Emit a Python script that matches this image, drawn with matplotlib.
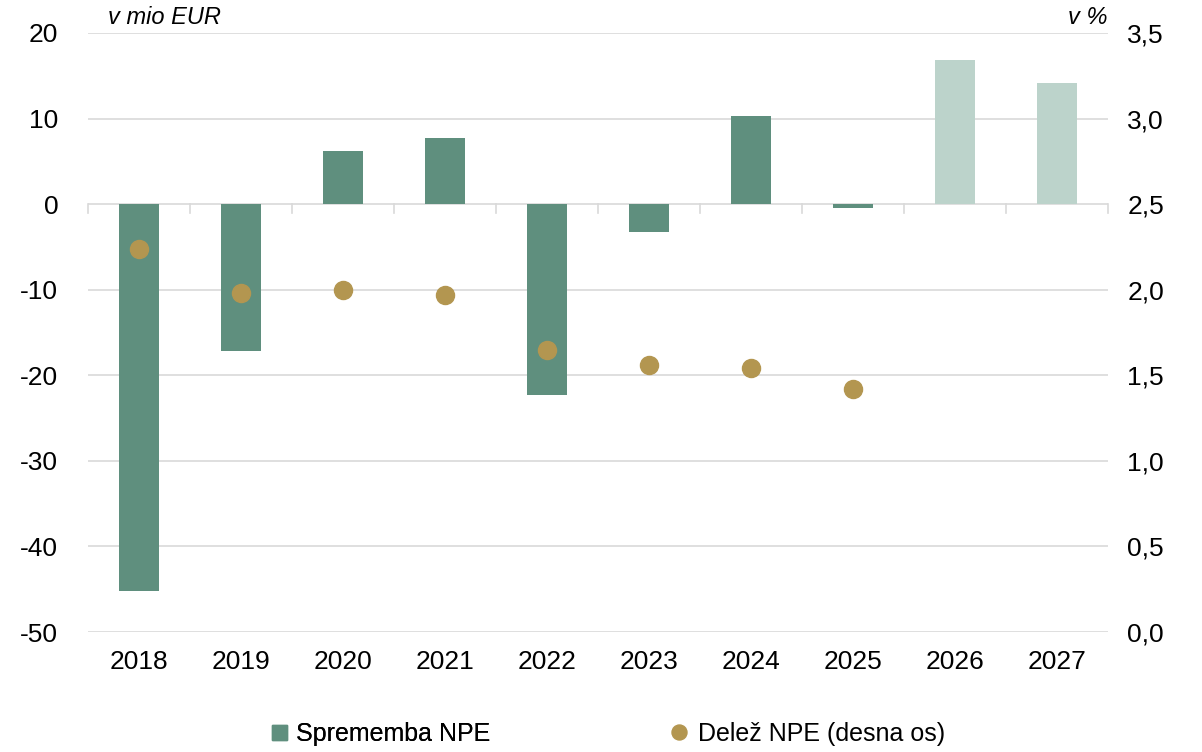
import matplotlib
matplotlib.use("Agg")
import matplotlib.pyplot as plt
from matplotlib.lines import Line2D

plt.rcParams['font.family'] = ['Liberation Sans', 'DejaVu Sans']
plt.rcParams['axes.unicode_minus'] = False

# data
years = ['2018', '2019', '2020', '2021', '2022', '2023', '2024', '2025', '2026', '2027']
change_npe = [-45.2, -17.2, 6.2, 7.7, -22.3, -3.3, 10.3, -0.5, 16.9, 14.2]
share_npe = [2.24, 1.98, 2.00, 1.97, 1.65, 1.56, 1.54, 1.42]
forecast = [False] * 8 + [True] * 2

dark = '#5f8f7e'
light = '#bcd3cb'
gold = '#b39650'
grid = '#d9d9d9'

fig = plt.figure(figsize=(12.02, 7.52), dpi=100)
ax = fig.add_axes([88 / 1202, 1 - 632 / 752, (1108 - 88) / 1202, (632 - 33) / 752])
ax2 = ax.twinx()

x = list(range(len(years)))
cols = [light if f else dark for f in forecast]
ax.bar(x, change_npe, width=0.39, color=cols, zorder=2)
ax.set_ylim(-50, 20)
ax.set_yticks(range(-50, 21, 10))
ax.set_xlim(-0.5, len(years) - 0.5)
ax.set_xticks(x)
ax.set_xticklabels(years)
for v in range(-50, 21, 10):
    ax.axhline(v, color=grid, lw=1.2, zorder=1)
# small ticks between categories on the zero line
for b in range(len(years) + 1):
    ax.plot([b - 0.5, b - 0.5], [0, -1.0], color=grid, lw=1.2, zorder=1, clip_on=False)

ax2.plot(x[:len(share_npe)], share_npe, 'o', color=gold, markersize=13, zorder=3)
ax2.set_ylim(0, 3.5)
ax2.set_yticks([i * 0.5 for i in range(8)])
ax2.set_yticklabels([f'{i * 0.5:.1f}'.replace('.', ',') for i in range(8)])

for a in (ax, ax2):
    for s in a.spines.values():
        s.set_visible(False)
    a.tick_params(length=0, labelsize=19)
ax.tick_params(axis='y', pad=21.5)
ax2.tick_params(axis='y', pad=14)
ax.tick_params(axis='x', pad=13)
ax.set_zorder(ax2.get_zorder() - 1)
ax2.patch.set_visible(False)

fig.text(108 / 1202, 1 - 18 / 752, 'v mio EUR', fontsize=17, style='italic', va='center', ha='left')
fig.text(1108 / 1202, 1 - 18 / 752, 'v %', fontsize=17, style='italic', va='center', ha='right')

leg_y = 1 - 734 / 752
h1 = Line2D([], [], marker='s', color=dark, linestyle='none', markersize=10.8)
h2 = Line2D([], [], marker='o', color=gold, linestyle='none', markersize=10.8)
leg1 = fig.legend([h1], ['Sprememba NPE'], loc='center left', bbox_to_anchor=(256 / 1202, leg_y),
                  frameon=False, fontsize=18, borderpad=0, handletextpad=0.3, handlelength=0.8)
fig.add_artist(leg1)
fig.legend([h2], ['Delež NPE (desna os)'], loc='center left', bbox_to_anchor=(656 / 1202, leg_y),
           frameon=False, fontsize=18, borderpad=0, handletextpad=0.4, handlelength=0.8)

fig.savefig('out.png', dpi=100)
